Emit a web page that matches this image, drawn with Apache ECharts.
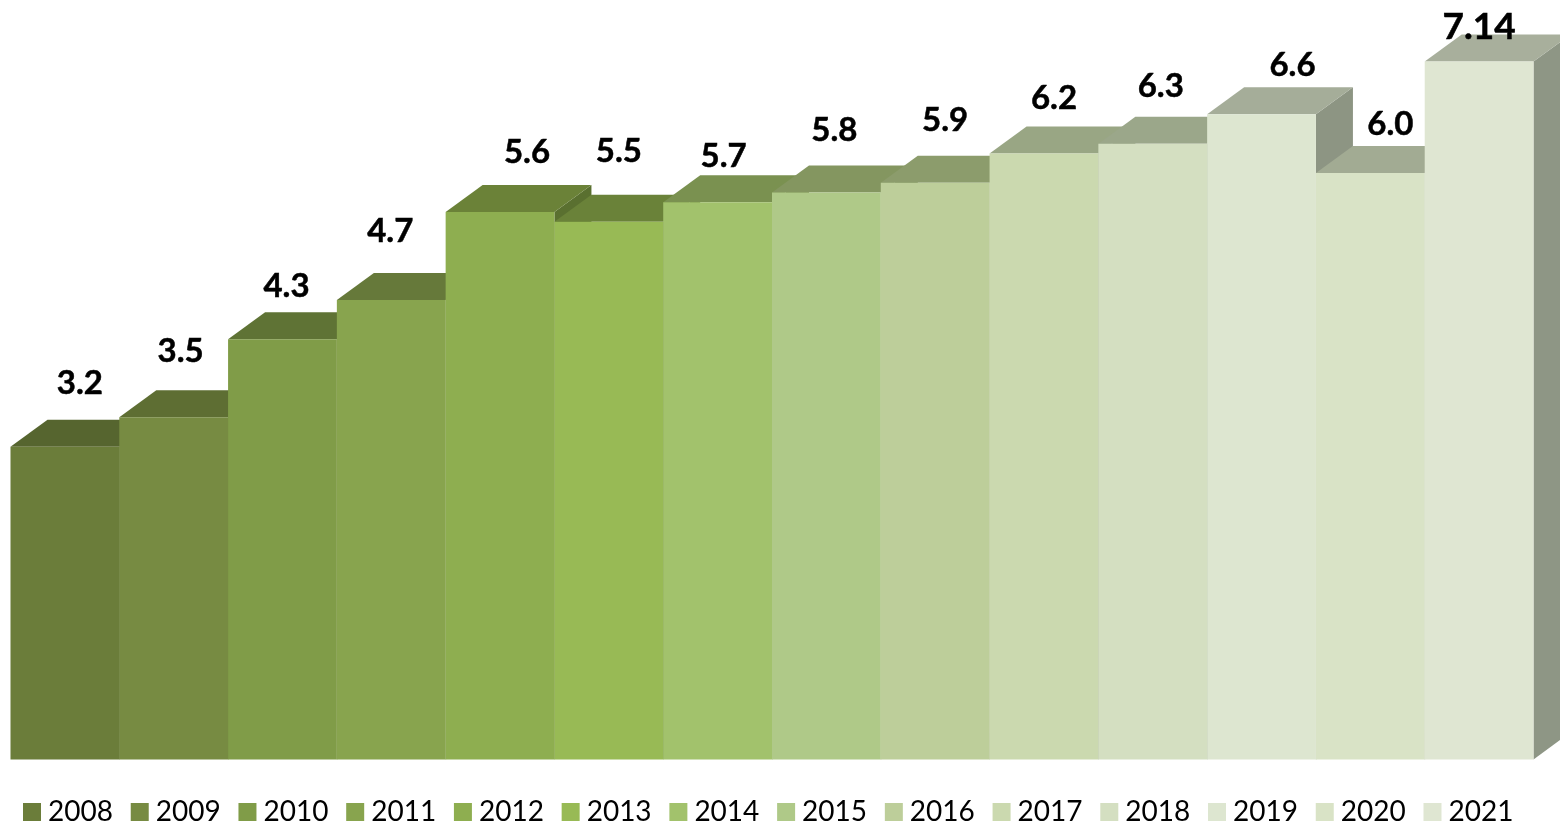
<!DOCTYPE html>
<html><head><meta charset="utf-8">
<style>html,body{margin:0;padding:0;background:#fff}#c{width:1560px;height:825px}</style>
<script src="https://cdn.jsdelivr.net/npm/echarts@6/dist/echarts.min.js"></script>
</head><body><div id="c"></div>
<script>
const years = ['2008','2009','2010','2011','2012','2013','2014','2015','2016','2017','2018','2019','2020','2021'];
const values = [3.2,3.5,4.3,4.7,5.6,5.5,5.7,5.8,5.9,6.2,6.3,6.6,6.0,7.14];
const valueLabels = ['3.2','3.5','4.3','4.7','5.6','5.5','5.7','5.8','5.9','6.2','6.3','6.6','6.0','7.14'];
const frontColors = ['#6B7D3A','#778B42','#809C48','#88A44E','#8EAE50','#98BA55','#A2C26C','#AFC988','#BDCE9A','#CBD9AF','#D4DFC1','#DDE6D0','#D9E3C6','#DFE6D2'];
const topColors = ['#56652F','#5E6E33','#5F7335','#66793A','#6B8238','#6A8239','#7A9150','#849660','#8C9C6C','#99A684','#9BA78A','#A5AD99','#A2AB93','#A8AF9C'];
const sideColors = ['#4A5728','#53612C','#566830','#5C6E34','#5A7030','#627A35','#6C8244','#768852','#7E8E5E','#8A9676','#8C987C','#8D9583','#8A9380','#8E9685'];
const labelNudge = [[15,-63],[7,-66],[4,-53],[-1,-69],[27,-60],[10,-70],[6,-46],[8,-62],[10,-62],[10,-55],[8,-57],[31,-49],[20,-49],[0,-35]];
const depthX = 37, depthY = 27;

function renderBar(params, api) {
  const i = api.value(0);
  const top = api.coord([i, api.value(1)]);
  const base = api.coord([i, 0]);
  const w = api.size([1, 0])[0];
  const x0 = top[0] - w / 2, x1 = top[0] + w / 2, yT = top[1], yB = base[1];
  const fc = frontColors[i];
  return {
    type: 'group',
    children: [
      { type: 'polygon', shape: { points: [[x1,yT],[x1+depthX,yT-depthY],[x1+depthX,yB-depthY],[x1,yB]] }, style: { fill: sideColors[i] } },
      { type: 'polygon', shape: { points: [[x0,yT],[x0+depthX,yT-depthY],[x1+depthX,yT-depthY],[x1,yT]] }, style: { fill: topColors[i] } },
      { type: 'rect', shape: { x: x0, y: yT, width: w, height: yB - yT }, style: { fill: fc } },
      { type: 'text', z2: 50, style: {
          x: top[0] + labelNudge[i][0], y: yT + labelNudge[i][1],
          text: valueLabels[i], fill: '#000', stroke: '#000', lineWidth: 0.5, align: 'center', verticalAlign: 'middle',
          font: 'bold ' + (i === 13 ? 37 : 33) + 'px Lato' } }
    ]
  };
}

const series = years.map((y, i) => ({
  type: 'custom', name: y, renderItem: renderBar, clip: false, silent: true,
  itemStyle: { color: frontColors[i] },
  encode: { x: 0, y: 1 },
  data: [[i, values[i]]],
  z: 2 + i * 0.01
}));

const chart = echarts.init(document.getElementById('c'), null, { renderer: 'canvas' });
chart.setOption({
  animation: false,
  backgroundColor: '#fff',
  grid: { left: 10.5, width: 1523, top: 0, height: 759.4, containLabel: false },
  xAxis: { type: 'category', data: years, show: false, boundaryGap: true },
  yAxis: { type: 'value', min: 0, max: 7.77, show: false },
  legend: {
    data: years, left: 23, top: 798, padding: 0, icon: 'rect', itemWidth: 18, itemHeight: 18, itemGap: 17.77,
    selectedMode: false,
    textStyle: { fontFamily: 'Lato', fontSize: 28, color: '#000', padding: [3,0,0,2] }
  },
  series
});
</script></body></html>
